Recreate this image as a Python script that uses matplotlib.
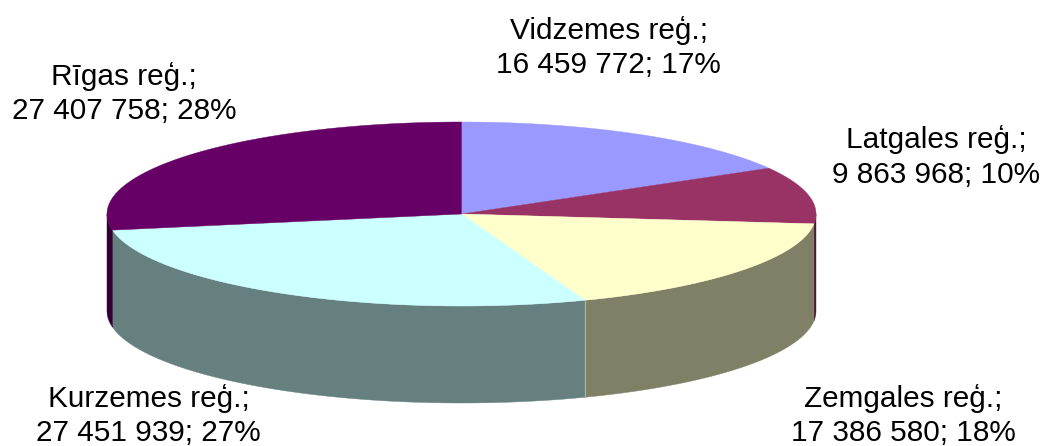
import numpy as np
import matplotlib
matplotlib.use("Agg")
import matplotlib.pyplot as plt
from matplotlib.patches import Polygon

regions = ["Vidzemes reģ.", "Latgales reģ.", "Zemgales reģ.", "Kurzemes reģ.", "Rīgas reģ."]
values = [16459772, 9863968, 17386580, 27451939, 27407758]
percents = [17, 10, 18, 27, 28]
top_colors = ["#9999FF", "#993366", "#FFFFCC", "#CCFFFF", "#660066"]
side_colors = ["#4D4D80", "#4D1A33", "#808066", "#668080", "#330033"]
label_pos = [(608.5, 47.5), (936, 157), (903, 415.5), (148.5, 415.5), (124, 93.5)]

CX, CY = 461.5, 214
RX, RY = 354.5, 92
DEPTH = 97


def fmt(v):
    return f"{v:,}".replace(",", " ")


def arc(a, b):
    t = np.radians(np.linspace(a, b, 200))
    return np.column_stack([CX + RX * np.sin(t), CY - RY * np.cos(t)])


plt.rcParams["font.family"] = ["Liberation Sans", "DejaVu Sans"]
fig = plt.figure(figsize=(10.42, 4.46), dpi=100)
ax = fig.add_axes([0, 0, 1, 1])
ax.set_xlim(0, 1042)
ax.set_ylim(446, 0)
ax.axis("off")

edges = np.concatenate([[0], np.cumsum(values) / np.sum(values) * 360])

# side walls first, only the front half of the ellipse shows
for i in range(len(values)):
    a = max(edges[i], 90)
    b = min(edges[i + 1], 270)
    if b <= a:
        continue
    pts = arc(a, b)
    low = pts[::-1] + [0, DEPTH]
    ax.add_patch(Polygon(np.vstack([pts, low]), closed=True, fc=side_colors[i], ec=side_colors[i], lw=0.3))

# thin light line where the two big walls meet
split = arc(edges[3], edges[3])[0]
ax.plot([split[0]] * 2, [split[1], split[1] + DEPTH], color="#A9B3A6", lw=0.8)

for i in range(len(values)):
    pts = np.vstack([[CX, CY], arc(edges[i], edges[i + 1])])
    ax.add_patch(Polygon(pts, closed=True, fc=top_colors[i], ec=top_colors[i], lw=0.3))

for i, name in enumerate(regions):
    x, y = label_pos[i]
    ax.text(x, y, f"{name};\n{fmt(values[i])}; {percents[i]}%", ha="center", va="center",
            fontsize=21.4, color="black", linespacing=1.3)

fig.savefig("out.png", dpi=100)
plt.close(fig)
